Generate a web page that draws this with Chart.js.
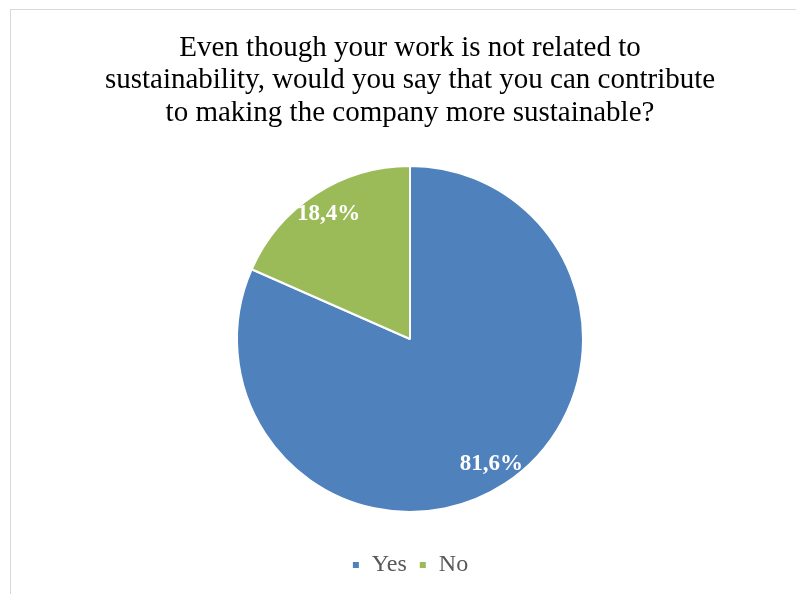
<!DOCTYPE html>
<html>
<head>
<meta charset="utf-8">
<script src="https://cdn.jsdelivr.net/npm/chart.js@4/dist/chart.umd.min.js"></script>
<style>
  html, body { margin: 0; padding: 0; background: #ffffff; overflow: hidden; }
  #wrap { position: relative; width: 796px; height: 594px; overflow: hidden; }
  #frame { position: absolute; left: 10px; top: 9px; width: 820px; height: 620px; border: 1px solid #d9d9d9; box-sizing: border-box; }
  canvas { position: absolute; left: 0; top: 0; }
</style>
</head>
<body>
<div id="wrap">
  <div id="frame"></div>
  <canvas id="chart" width="796" height="594"></canvas>
</div>
<script>
// Survey answers (percent of respondents)
const categories = ['Yes', 'No'];
const shares = [81.6, 18.4];
const sliceColors = ['#4F81BD', '#9BBB59'];
const titleLines = [
  'Even though your work is not related to',
  'sustainability, would you say that you can contribute',
  'to making the company more sustainable?'
];

const serif = '"Liberation Serif", "Times New Roman", Times, serif';

// Writes each slice's share inside the slice, near its rim
const sliceLabels = {
  id: 'sliceLabels',
  afterDatasetsDraw(chart) {
    const ctx = chart.ctx;
    const meta = chart.getDatasetMeta(0);
    const values = chart.data.datasets[0].data;
    ctx.save();
    ctx.font = 'bold 23px ' + serif;
    ctx.fillStyle = '#ffffff';
    ctx.textAlign = 'center';
    ctx.textBaseline = 'middle';
    meta.data.forEach((arc, i) => {
      const p = arc.getProps(['x', 'y', 'startAngle', 'endAngle', 'outerRadius'], true);
      const mid = (p.startAngle + p.endAngle) / 2;
      const r = p.outerRadius * 0.86;
      const text = values[i].toFixed(1).replace('.', ',') + '%';
      ctx.fillText(text, p.x + Math.cos(mid) * r, p.y + Math.sin(mid) * r);
    });
    ctx.restore();
  }
};

new Chart(document.getElementById('chart'), {
  type: 'pie',
  data: {
    labels: categories,
    datasets: [{
      data: shares,
      backgroundColor: sliceColors,
      borderColor: '#ffffff',
      borderWidth: 2,
      radius: 173
    }]
  },
  options: {
    responsive: false,
    animation: false,
    layout: { padding: { left: 24, right: 0, top: 0, bottom: 7 } },
    plugins: {
      title: {
        display: true,
        text: titleLines,
        color: '#000000',
        font: { family: serif, size: 29, weight: 'normal', lineHeight: 1.12 },
        padding: { top: 32, bottom: 7.5 }
      },
      legend: {
        display: true,
        position: 'bottom',
        labels: {
          color: '#595959',
          font: { family: serif, size: 24 },
          boxWidth: 8,
          boxHeight: 8,
          padding: 12
        }
      },
      tooltip: { enabled: false }
    }
  },
  plugins: [sliceLabels]
});
</script>
</body>
</html>
